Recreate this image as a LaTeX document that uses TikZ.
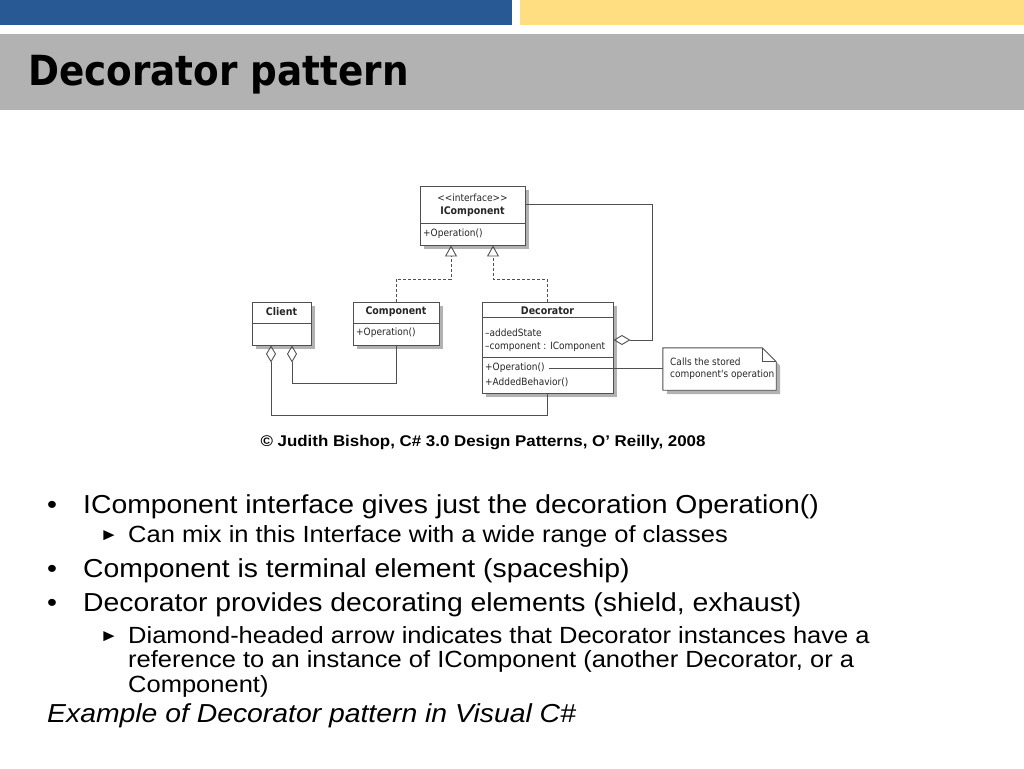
\documentclass[tikz,border=0pt]{standalone}
\usepackage{fontspec}
\setmainfont{Liberation Sans}[FakeStretch=1.09]
\newfontfamily\titlefont{DejaVu Sans Condensed}
\newfontfamily\umlfont{DejaVu Sans Condensed}
\usetikzlibrary{arrows.meta,shadows,calc}
\definecolor{barblue}{RGB}{41,89,148}
\definecolor{baryellow}{RGB}{255,221,128}
\definecolor{bandgray}{RGB}{178,178,178}
\definecolor{umlline}{RGB}{80,80,80}
\tikzset{
  umlbox/.style={draw=umlline,line width=0.9pt,fill=white,inner sep=0pt,
    drop shadow={shadow xshift=4pt,shadow yshift=-4pt,fill=black!30,opacity=1}},
  umltxt/.style={font=\umlfont\fontsize{10}{12}\selectfont,text=black!85,inner sep=0pt},
  umlhead/.style={umltxt,font=\umlfont\bfseries\fontsize{10.5}{12}\selectfont},
  link/.style={draw=umlline,line width=0.9pt},
  realize/.style={link,dash pattern=on 3pt off 2pt,-{Triangle[open,length=11pt,width=12pt]}},
  aggr/.style={link,{Diamond[open,length=17pt,width=10pt]}-},
  maintxt/.style={anchor=base west,inner sep=0pt,font=\fontsize{26}{30}\selectfont},
  subtxt/.style={anchor=base west,inner sep=0pt,font=\fontsize{23.4}{26}\selectfont},
}
\begin{document}
\begin{tikzpicture}[x=1pt,y=-1pt]
\useasboundingbox (0,0) rectangle (1024,768);
% header bars
\fill[barblue] (0,0) rectangle (512,25);
\fill[baryellow] (520,0) rectangle (1024,25);
\fill[bandgray] (0,34) rectangle (1024,110);
\node[anchor=base west,inner sep=0pt,font=\titlefont\bfseries\fontsize{41.5}{44}\selectfont] (title) at (28,85) {Decorator pattern};

% class boxes
\node[umlbox,minimum width=105,minimum height=59] (icomp) at (472.5,215.5) {};
\node[umlbox,minimum width=59,minimum height=43] (client) at (281.5,323.5) {};
\node[umlbox,minimum width=86,minimum height=43] (comp) at (396,323.5) {};
\node[umlbox,minimum width=131,minimum height=91] (deco) at (547.5,347.5) {};
\draw[link] (420,223)--(525,223);
\draw[link] (252,323)--(311,323);
\draw[link] (353,323)--(439,323);
\draw[link] (482,317)--(613,317);
\draw[link] (482,357)--(613,357);

% class texts
\node[umltxt] (stereo) at (472.5,198) {<{}<interface>{}>};
\node[umlhead] (icname) at (472.5,212) {IComponent};
\node[umltxt,anchor=west] (icop) at (423,234) {+Operation()};
\node[umlhead] (clname) at (281.5,312) {Client};
\node[umlhead] (coname) at (396,312) {Component};
\node[umltxt,anchor=west] (coop) at (356,333) {+Operation()};
\node[umlhead] (dename) at (547.5,311) {Decorator};
\node[umltxt,anchor=west] (destate) at (485,333) {\textendash addedState};
\node[umltxt,anchor=west] (decomp) at (485,347) {\textendash component : IComponent};
\node[umltxt,anchor=west] (deop) at (485,368) {+Operation()};
\node[umltxt,anchor=west] (debeh) at (485,382) {+AddedBehavior()};

% note
\node[inner sep=0pt,minimum width=113,minimum height=42] (note) at (719.5,369) {};
\fill[black!30] ($(note.north west)+(4,4)$) -- ($(note.north east)+(-10,4)$) -- ($(note.north east)+(4,18)$) -- ($(note.south east)+(4,4)$) -- ($(note.south west)+(4,4)$) -- cycle;
\draw[link,fill=white] (note.north west) -- ($(note.north east)+(-14,0)$) -- ($(note.north east)+(0,14)$) -- (note.south east) -- (note.south west) -- cycle;
\draw[link] ($(note.north east)+(-14,0)$) -- ($(note.north east)+(-14,14)$) -- ($(note.north east)+(0,14)$);
\node[umltxt,anchor=west] (notea) at (670,362) {Calls the stored};
\node[umltxt,anchor=west] (noteb) at (670,375) {component's operation};

% connectors
\coordinate (lowA) at (0,383);
\coordinate (lowB) at (0,415);
\draw[realize] (comp.north) |- (451,279) -- ([xshift=-21.5pt]icomp.south);
\draw[realize] (deco.north) |- (493,279) -- ([xshift=20.5pt]icomp.south);
\draw[aggr] ([xshift=10.5pt]client.south) |- (comp.south |- lowA) -- (comp.south);
\draw[aggr] ([xshift=-10.5pt]client.south) |- (deco.south |- lowB) -- (deco.south);
\draw[aggr] ([yshift=7.5pt]deco.east) -- ++(39,0) |- ([yshift=11.5pt]icomp.east);
\draw[link] (deop.east) ++(4,0) coordinate (opend) -- (opend -| note.west);

% credit
\node[anchor=base,inner sep=0pt,font=\bfseries\fontsize{15.5}{17}\selectfont] (credit) at (483,446) {\textcopyright\ Judith Bishop, C\# 3.0 Design Patterns, O’ Reilly, 2008};

% bullets
\node[maintxt] (b1) at (83,513) {IComponent interface gives just the decoration Operation()};
\node[maintxt,anchor=base] (d1) at (52,513) {•};
\node[subtxt] (s1) at (128,542) {Can mix in this Interface with a wide range of classes};
\node[subtxt,anchor=base,font=\fontsize{17}{18}\selectfont] (e1) at (109,540) {►};
\node[maintxt] (b2) at (83,577) {Component is terminal element (spaceship)};
\node[maintxt,anchor=base] (d2) at (52,577) {•};
\node[maintxt] (b3) at (83,611) {Decorator provides decorating elements (shield, exhaust)};
\node[maintxt,anchor=base] (d3) at (52,611) {•};
\node[subtxt] (s2) at (128,643) {Diamond-headed arrow indicates that Decorator instances have a};
\node[subtxt] (s3) at (128,667) {reference to an instance of IComponent (another Decorator, or a};
\node[subtxt] (s4) at (128,692) {Component)};
\node[subtxt,anchor=base,font=\fontsize{17}{18}\selectfont] (e2) at (109,641) {►};
\node[maintxt,font=\itshape\fontsize{26}{30}\selectfont] (ex) at (47,722) {Example of Decorator pattern in Visual C\#};
\end{tikzpicture}
\end{document}
